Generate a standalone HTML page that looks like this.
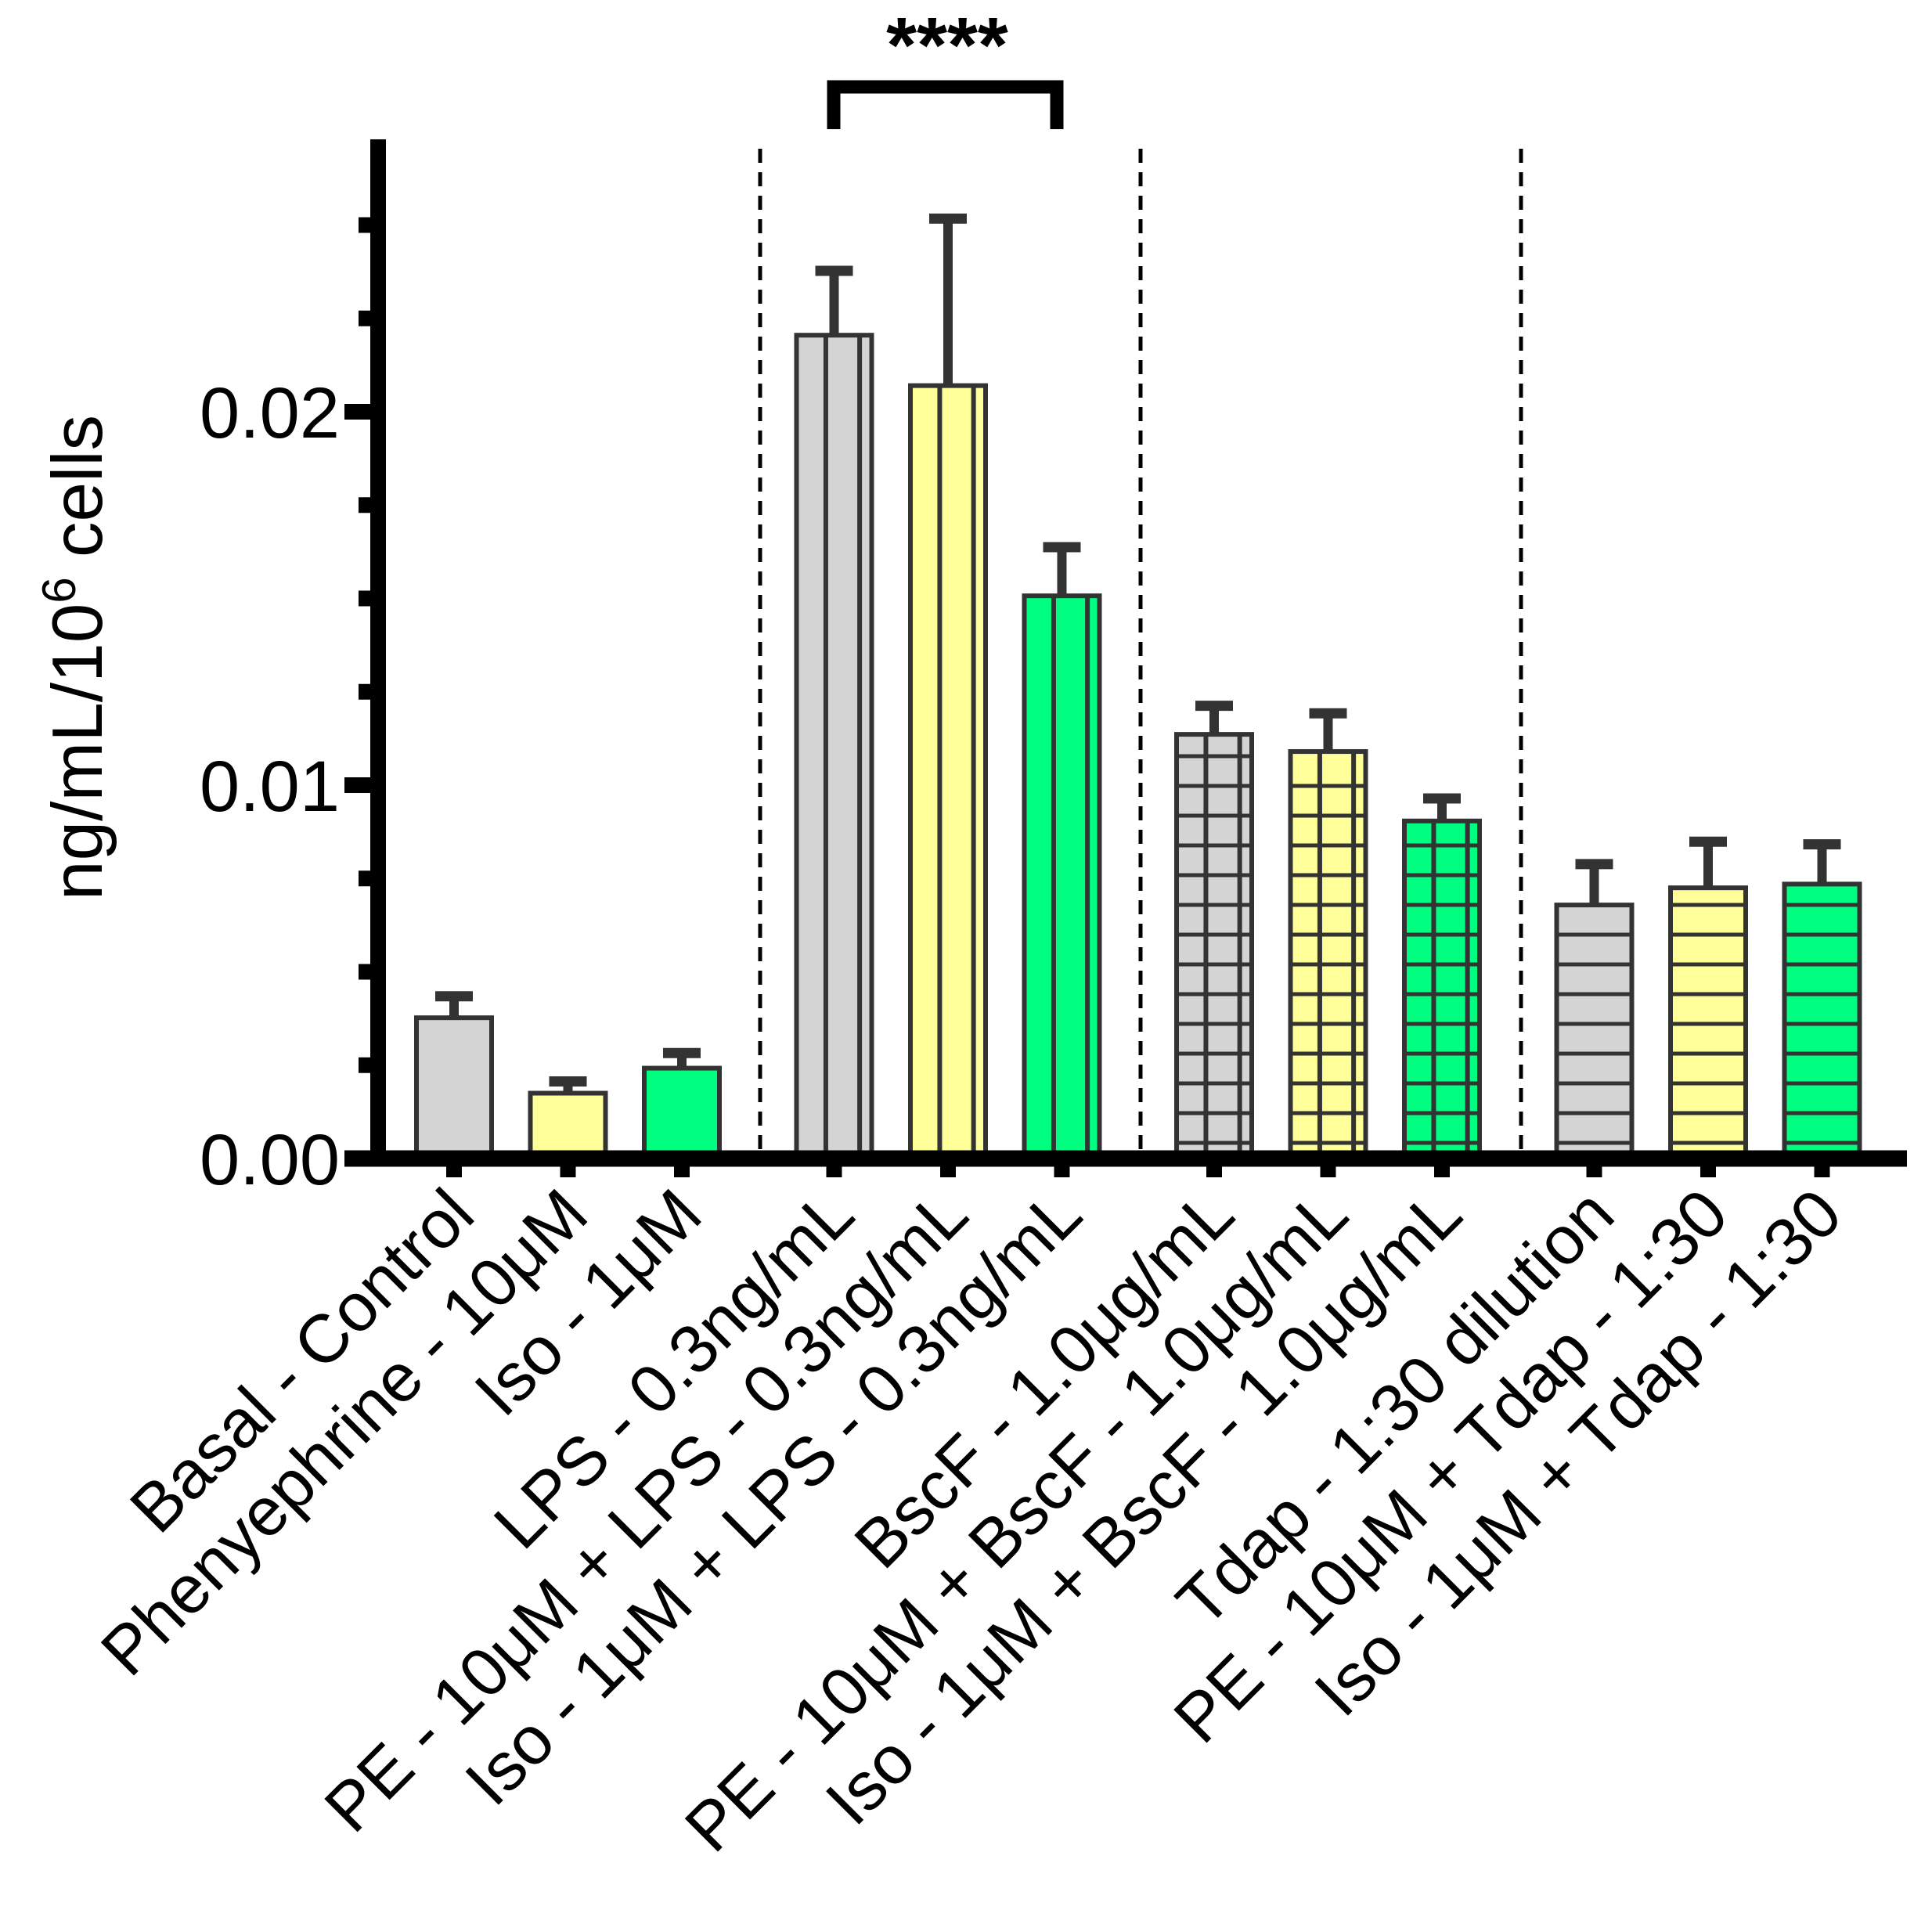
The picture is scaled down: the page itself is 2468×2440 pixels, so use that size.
<!DOCTYPE html>
<html><head><meta charset="utf-8">
<style>html,body{margin:0;padding:0;background:#fff;}svg{display:block;}</style>
</head><body>
<svg id="chart" width="2468" height="2440" viewBox="0 0 2468 2440" xmlns="http://www.w3.org/2000/svg" font-family="Liberation Sans, Arial, sans-serif">
</svg>
<script>
const categories = ["Basal - Control","Phenyephrine - 10μM","Iso - 1μM","LPS - 0.3ng/mL","PE - 10μM + LPS - 0.3ng/mL","Iso - 1μM + LPS - 0.3ng/mL","BscF - 1.0μg/mL","PE - 10μM + BscF - 1.0μg/mL","Iso - 1μM + BscF - 1.0μg/mL","Tdap - 1:30 dilution","PE - 10μM + Tdap - 1:30","Iso - 1μM + Tdap - 1:30"];
const means = [0.00377,0.00175,0.00242,0.02205,0.0207,0.01507,0.01136,0.0109,0.00904,0.00679,0.00725,0.00735];
const errors = [0.0007,0.00044,0.00053,0.00185,0.0046,0.00143,0.00089,0.00115,0.00073,0.00122,0.00136,0.00119];
const groups = [0,0,0,1,1,1,2,2,2,3,3,3];
const colorIdx = [0,1,2,0,1,2,0,1,2,0,1,2];
const yTicksMajor = [0,0.01,0.02];
const yTickLabels = ["0.00","0.01","0.02"];
const yTicksMinor = [0.0025,0.005,0.0075,0.0125,0.015,0.0175,0.0225,0.025];

const svg = document.getElementById('chart');
const NS = "http://www.w3.org/2000/svg";
const y0 = 1480, pxPerUnit = 47700;
function yS(v){ return y0 - v*pxPerUnit; }
function xS(i){ return 580 + i*145.5 + groups[i]*49; }
const fills = ["#d4d4d4","#ffff99","#00ff80"];
function mk(tag, attrs, parent){ const e=document.createElementNS(NS,tag); for(const k in attrs) e.setAttribute(k,attrs[k]); (parent||svg).appendChild(e); return e; }

const halfW = 48;
for(let i=0;i<categories.length;i++){
  const cx = xS(i), top = yS(means[i]);
  const g = mk('g',{});
  
  
  const et = yS(means[i]+errors[i]);
  const stem = mk('line',{x1:cx,y1:top,x2:cx,y2:et,stroke:'#333','stroke-width':12},g);
  
  
  const cap = mk('line',{x1:cx-24,y1:et+6,x2:cx+24,y2:et+6,stroke:'#333','stroke-width':13},g);
  
  
  const r = mk('rect',{x:cx-halfW,y:top,width:halfW*2,height:y0-top,fill:fills[colorIdx[i]],stroke:'#333','stroke-width':6},g);
  
  
  const gr = groups[i];
  if(gr===1||gr===2){
    [0.39,0.84].forEach(f=>{
      const l = mk('line',{x1:cx-halfW+f*halfW*2,y1:top,x2:cx-halfW+f*halfW*2,y2:y0,stroke:'#333','stroke-width':6},g);
      
      
    });
  }
  if(gr===2||gr===3){
    for(let yy=y0-20; yy>top+12; yy-=38){
      const l = mk('line',{x1:cx-halfW,y1:yy,x2:cx+halfW,y2:yy,stroke:'#333','stroke-width':5},g);
      
      
    }
  }
  const t = mk('line',{x1:cx,y1:y0,x2:cx,y2:1504,stroke:'#000','stroke-width':20});
  
  
  const tx = mk('text',{x:0,y:0,'font-size':87,'text-anchor':'end',fill:'#000',transform:`translate(${cx+30},${1556}) rotate(-45)`});
  tx.textContent = categories[i];
  
  
}
[971,1457,1943].forEach(x=>{
  const l = mk('line',{x1:x,y1:190,x2:x,y2:y0-10,stroke:'#000','stroke-width':5,'stroke-dasharray':'18 12'});
  
  
});
const ya = mk('line',{x1:483,y1:178,x2:483,y2:y0+10,stroke:'#000','stroke-width':20});


const xa = mk('line',{x1:440,y1:y0,x2:2436,y2:y0,stroke:'#000','stroke-width':21});


yTicksMajor.forEach((v,k)=>{
  const l = mk('line',{x1:440,y1:yS(v),x2:483,y2:yS(v),stroke:'#000','stroke-width':20});
  
  
  const t = mk('text',{x:434,y:yS(v)+33,'font-size':92,'text-anchor':'end',fill:'#000'});
  t.textContent = yTickLabels[k];
  
  
});
yTicksMinor.forEach(v=>{
  const l = mk('line',{x1:458,y1:yS(v),x2:483,y2:yS(v),stroke:'#000','stroke-width':20});
  
  
});
const yt = mk('text',{x:0,y:0,'font-size':91,'text-anchor':'middle',fill:'#000',transform:'translate(130,840) rotate(-90)'});
yt.innerHTML = 'ng/mL/10<tspan dy="-34" font-size="60">6</tspan><tspan dy="34"> cells</tspan>';


const br = mk('polyline',{points:'1065,165 1065,111 1350,111 1350,165',fill:'none',stroke:'#000','stroke-width':17});


const st = mk('text',{x:1210,y:92,'font-size':100,'font-weight':'bold','text-anchor':'middle',fill:'#000'});
st.textContent = '****';


</script>
</body></html>
